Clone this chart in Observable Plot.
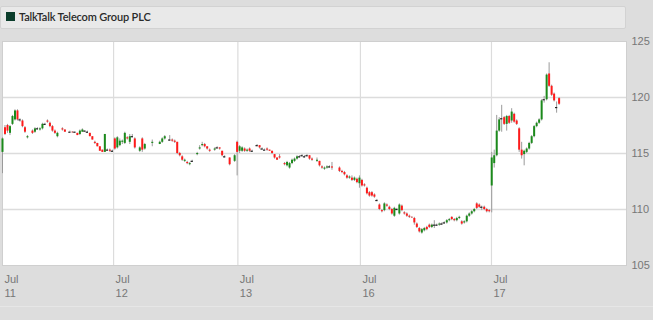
<!DOCTYPE html>
<html>
<head>
<meta charset="utf-8">
<script src="https://cdn.jsdelivr.net/npm/d3@7"></script>
<script src="https://cdn.jsdelivr.net/npm/@observablehq/plot@0.6"></script>
<style>
  html, body { margin: 0; padding: 0; background: #dddddd; width: 653px; height: 320px; overflow: hidden; }
  #header { position: absolute; left: 0; top: 6px; width: 624px; height: 21px; background: #e9e9e9;
            border: 1px solid #d2d2d2; border-radius: 2px; }
  #swatch { position: absolute; left: 5px; top: 5px; width: 9px; height: 9px; background: #0b3d2b; }
  #title { position: absolute; left: 18px; top: 3px; font: 600 11px Lato, "Open Sans", sans-serif; letter-spacing: -0.15px; color: #2a2a2a; white-space: nowrap; }
  #chart { position: absolute; left: 0; top: 30px; }
  #bottomline { position: absolute; left: 0; top: 306px; width: 653px; height: 1px; background: #e6e6e6; }
</style>
</head>
<body>
<div id="header"><div id="swatch"></div><div id="title">TalkTalk Telecom Group PLC</div></div>
<div id="chart"></div>
<div id="bottomline"></div>
<script>
// candles: [slot, open, high, low, close]
const jul11 = [
[0,115.1,116.4,113.2,116.3],[1,117.3,117.5,116.6,116.7],[2,117.5,117.6,116.8,117.0],[3,116.8,117.5,116.6,117.4],
[4,117.6,118.4,117.5,118.3],[5,118.0,118.9,117.9,118.8],[6,118.8,118.9,117.9,118.0],[7,118.0,118.1,117.8,118.0],
[8,117.9,118.0,117.3,117.4],[9,117.3,117.4,116.8,116.9],[10,116.4,116.6,116.3,116.5],[12,117.0,117.1,116.7,116.8],
[13,116.9,117.3,116.8,117.2],[14,117.2,117.3,117.1,117.2],[15,117.1,117.3,117.0,117.2],[16,117.2,117.7,117.1,117.6],
[17,117.6,117.7,117.5,117.6],[18,117.9,118.0,117.7,117.8],[19,117.7,117.8,117.3,117.4],[20,117.4,117.5,116.9,117.0],
[21,117.0,117.1,116.7,116.8],[22,116.5,116.9,116.4,116.8],[24,117.2,117.3,117.0,117.1],[25,117.1,117.1,116.9,116.9],
[27,116.9,117.0,116.9,116.9],[28,116.9,116.95,116.8,116.85],[29,116.9,116.9,116.85,116.9],[30,116.8,116.8,116.6,116.6],
[31,116.7,117.1,116.6,117.0],[32,116.9,117.2,116.9,117.1],[33,117.0,117.0,116.9,117.0],[34,116.9,117.0,116.8,116.9],
[35,116.8,116.8,116.5,116.5],[36,116.5,116.5,116.2,116.2],[37,116.0,116.1,115.8,115.9],[38,115.9,115.9,115.6,115.6],
[39,115.6,115.6,115.2,115.2],[40,115.3,115.3,115.1,115.1],[41,115.1,116.7,115.1,116.7],[42,115.3,115.4,115.2,115.3],
[43,115.3,115.4,115.1,115.2],[44,115.2,115.3,115.1,115.2]
];
const jul12 = [
[45,116.3,116.4,115.3,115.4],[46,115.5,116.5,115.4,116.4],[47,115.7,116.3,115.6,116.1],[48,116.0,116.2,115.8,116.1],
[49,115.9,116.9,115.8,116.8],[50,116.4,116.5,116.2,116.3],[51,116.0,116.7,115.8,116.5],[52,116.5,116.7,116.4,116.5],
[53,116.3,116.4,115.4,115.5],[55,115.2,115.6,115.1,115.5],[56,116.3,116.4,115.1,115.3],[57,115.4,115.9,115.3,115.8],
[60,115.9,116.2,115.6,116.0],[63,115.8,116.1,115.8,116.0],[64,116.0,116.4,115.9,116.3],[65,116.3,116.6,116.2,116.5],
[67,116.2,116.6,116.1,116.2],[68,116.2,116.3,116.0,116.1],[69,116.1,116.2,115.9,116.0],[70,116.0,116.0,114.9,115.0],
[71,115.0,115.1,114.7,114.8],[72,114.7,114.8,114.3,114.4],[73,114.3,114.5,114.2,114.4],[74,114.2,114.3,114.0,114.1],
[75,114.0,114.2,113.9,114.1],[76,114.3,114.4,114.2,114.3],[78,114.9,115.1,114.8,115.0],[79,115.4,115.7,115.3,115.5],
[80,115.7,116.0,115.6,115.8],[81,115.8,115.9,115.5,115.6],[82,115.6,115.6,115.3,115.4],[83,115.3,115.4,115.1,115.2],
[85,115.3,115.5,115.2,115.4],[86,115.5,115.6,115.4,115.5],[87,115.5,115.5,115.3,115.4],[88,115.2,115.2,114.7,114.8],
[89,114.7,114.8,114.6,114.7],[91,114.6,114.6,113.9,114.0],[93,114.3,114.9,114.2,114.8],[94,116.0,116.1,113.0,115.1]
];
const jul13 = [
[95,115.2,115.7,115.0,115.6],[96,115.2,115.6,115.1,115.5],[97,115.4,115.5,115.1,115.2],[98,115.2,115.4,115.1,115.3],
[99,115.4,115.5,115.1,115.2],[100,115.2,115.3,115.1,115.2],[102,115.7,115.8,115.6,115.7],[103,115.7,115.7,115.4,115.5],
[104,115.4,115.5,115.3,115.4],[105,115.3,115.4,115.3,115.3],[106,115.4,115.5,115.2,115.3],[107,115.3,115.3,115.2,115.2],
[108,115.2,115.2,114.9,115.0],[109,114.9,114.9,114.5,114.6],[110,114.6,114.6,114.4,114.4],[111,114.7,114.9,114.5,114.6],
[113,114.1,114.2,113.9,114.0],[114,113.9,114.3,113.8,114.2],[115,113.7,114.2,113.6,114.1],[116,114.1,114.5,114.0,114.4],
[117,114.3,114.6,114.2,114.5],[118,114.5,114.8,114.4,114.7],[119,114.7,114.8,114.6,114.7],[120,114.8,114.9,114.7,114.8],
[121,114.7,114.8,114.6,114.7],[122,114.8,114.9,114.7,114.8],[123,114.8,114.8,114.4,114.5],[124,114.5,114.6,114.3,114.4],
[126,114.3,114.6,114.2,114.4],[127,114.3,114.3,113.8,113.9],[128,113.8,113.9,113.6,113.7],[129,113.6,113.8,113.5,113.7],
[130,113.7,113.9,113.6,113.8],[131,113.8,113.9,113.7,113.8],[132,113.8,114.2,113.5,113.7],[135,113.7,113.8,113.3,113.4],
[136,113.4,113.5,113.2,113.3],[137,113.3,113.4,113.0,113.1],[138,113.0,113.1,112.7,112.8],[139,112.8,113.0,112.7,112.9],
[140,112.8,113.0,112.5,112.6],[141,112.6,112.9,112.5,112.8],[142,112.7,112.8,112.3,112.4],[143,112.3,113.0,111.9,112.8]
];
const jul16 = [
[144,112.6,112.7,112.0,112.1],[145,112.2,112.3,112.0,112.1],[146,111.9,112.0,111.3,111.4],[147,111.5,111.6,111.1,111.2],
[148,111.5,111.6,111.1,111.2],[149,111.3,111.4,111.0,111.1],[150,110.8,110.9,110.7,110.8],[151,110.4,110.5,109.9,110.0],
[152,109.9,110.0,109.7,109.8],[153,109.9,110.6,109.8,110.5],[154,110.4,110.5,110.2,110.3],[155,110.2,110.3,109.9,110.0],
[156,110.0,110.1,109.5,109.6],[157,109.4,110.2,109.3,110.1],[158,110.0,110.1,109.9,110.0],[159,109.6,110.5,109.5,110.4],
[160,110.3,110.4,109.8,109.9],[161,109.7,109.8,109.5,109.6],[162,109.6,109.7,109.3,109.4],[163,109.4,109.5,109.2,109.3],
[164,109.3,109.35,109.2,109.25],[165,109.2,109.3,108.6,108.8],[166,108.7,108.8,108.3,108.4],[167,108.3,108.4,107.9,108.0],
[168,107.9,108.3,107.8,108.2],[169,108.1,108.4,108.0,108.3],[170,108.4,108.5,108.1,108.2],[171,108.6,108.7,108.3,108.4],
[172,108.4,108.7,108.3,108.6],[173,108.6,109.0,108.3,108.6],[174,108.6,108.7,108.5,108.6],[175,108.6,108.8,108.5,108.7],
[176,108.7,108.8,108.6,108.7],[177,108.8,108.9,108.7,108.8],[178,108.8,109.1,108.7,109.0],[179,109.0,109.2,108.9,109.1],
[180,109.3,109.35,109.0,109.1],[181,109.1,109.2,108.9,109.0],[182,109.0,109.3,108.9,109.2],[183,109.2,109.4,109.1,109.3],
[184,108.9,109.0,108.6,108.7],[185,108.8,109.0,108.7,108.9],[186,108.9,109.5,108.8,109.4],[187,109.4,109.7,109.3,109.6],
[188,109.6,109.9,109.5,109.8],[189,109.8,110.1,109.7,110.0],[190,110.5,110.6,110.0,110.1],[191,110.4,110.5,110.1,110.2],
[192,110.2,110.3,109.9,110.2],[193,110.2,110.3,109.9,110.0],[194,110.0,110.1,109.7,109.8],[195,109.9,110.0,109.7,109.8]
];
const jul17 = [
[196,112.1,115.1,109.7,114.6],[197,114.1,115.3,113.7,114.8],[198,114.8,118.4,114.7,117.0],[199,117.0,118.2,116.9,118.0],
[200,118.1,119.3,116.9,118.1],[201,118.2,118.3,117.5,117.6],[202,117.6,118.4,117.0,118.3],[203,118.3,118.4,117.6,117.7],
[204,117.9,119.0,117.7,118.7],[205,118.5,118.6,117.7,117.8],[206,117.9,118.0,117.5,117.6],[207,117.2,117.3,115.1,115.3],
[208,115.3,116.0,114.5,114.8],[209,114.9,115.3,113.9,115.2],[210,115.1,115.5,115.0,115.4],[211,115.4,116.0,115.3,115.9],
[212,115.9,116.6,115.8,116.5],[213,116.5,117.5,116.4,117.4],[214,117.4,117.8,117.3,117.7],[215,117.7,118.1,117.6,118.0],
[216,118.0,119.8,117.9,119.7],[217,119.8,120.1,119.5,119.8],[218,119.8,122.1,119.7,122.0],[219,122.1,123.1,120.9,121.0],
[220,121.0,121.1,120.1,120.2],[221,120.3,120.4,119.6,119.7],[222,119.1,119.6,118.6,119.1],[223,119.9,120.0,119.3,119.4]
];
const tickSlots = [0, 44.5, 94.3, 143.4, 195.9];
const tickMonths = ["Jul", "Jul", "Jul", "Jul", "Jul"];
const tickDays = ["11", "12", "13", "16", "17"];
const yTicks = [105, 110, 115, 120, 125];

const candles = [...jul11, ...jul12, ...jul13, ...jul16, ...jul17]
  .map(([t, o, h, l, c]) => ({t, o, h, l, c}));
const moving = candles.filter(d => d.c !== d.o);
const doji = candles.filter(d => d.c === d.o);

const chart = Plot.plot({
  width: 653,
  height: 290,
  marginLeft: 2,
  marginRight: 27,
  marginTop: 11,
  marginBottom: 55,
  style: {fontFamily: "'Liberation Sans', Arial, sans-serif", fontSize: "11px", color: "#777", background: "transparent", overflow: "visible"},
  x: {domain: [0, 250], axis: null},
  y: {domain: [105, 125], axis: null},
  marks: [
    Plot.frame({fill: "white", stroke: null}),
    Plot.gridY(yTicks.slice(1, -1), {stroke: "#dcdcdc", strokeOpacity: 1, strokeWidth: 1.5}),
    Plot.ruleX(tickSlots.slice(1), {stroke: "#dcdcdc", strokeWidth: 1.2}),
    Plot.frame({stroke: "#cfcfcf"}),
    Plot.ruleX(candles, {x: "t", y1: "l", y2: "h", stroke: "#9a9a9a", strokeWidth: 1}),
    Plot.ruleX(moving, {x: "t", y1: "o", y2: "c", stroke: d => d.c > d.o ? "#1b8a1b" : "#ff1a1a", strokeWidth: 2}),
    Plot.ruleY(doji, {y: "o", x1: d => d.t - 0.45, x2: d => d.t + 0.45, stroke: "#222", strokeWidth: 1.2}),
    Plot.axisY(yTicks, {anchor: "right", tickSize: 0, tickPadding: 5, fill: "#777"}),
    Plot.text(tickSlots, {x: d => d, text: (d, i) => tickMonths[i] + "\n" + tickDays[i],
      frameAnchor: "bottom", textAnchor: "start", lineAnchor: "top", dy: 8, dx: 2, lineHeight: 1.27, fill: "#777"})
  ]
});
document.getElementById("chart").appendChild(chart);
</script>
</body>
</html>
